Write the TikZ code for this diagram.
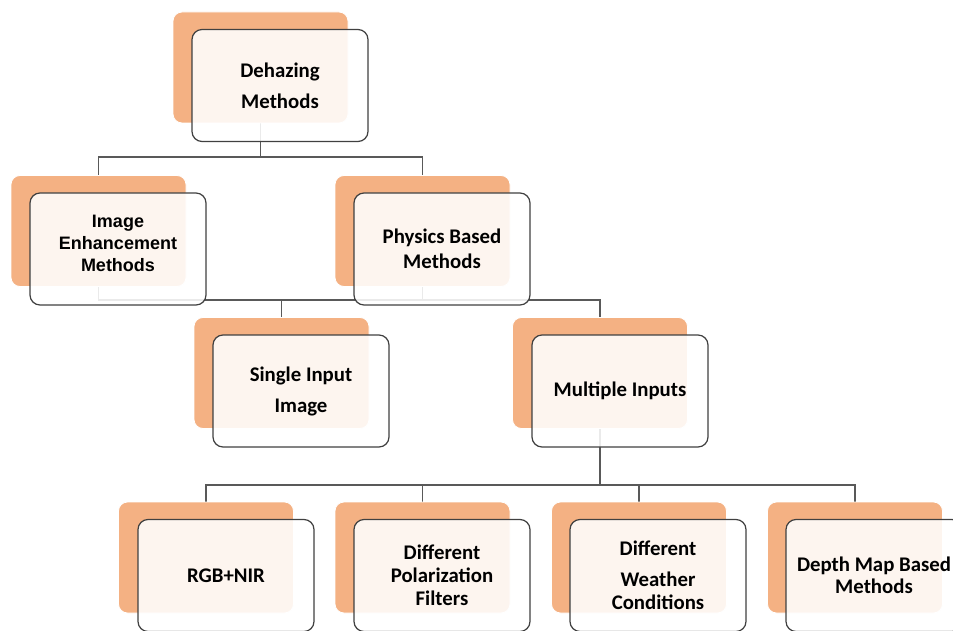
\documentclass[tikz,border=0pt]{standalone}
\usepackage{fontspec}
\newfontfamily\calfont{Carlito}
\newfontfamily\arifont{Liberation Sans}
\usetikzlibrary{backgrounds}
\definecolor{boxorange}{HTML}{F4B183}
\definecolor{boxline}{HTML}{404040}
\definecolor{connline}{HTML}{595959}
\tikzset{
  backbox/.style={rectangle, rounded corners=9pt, fill=boxorange, draw=white, line width=0.8pt,
    minimum width=175pt, minimum height=111pt, inner sep=0pt},
  frontbox/.style={rectangle, rounded corners=10pt, fill=white, fill opacity=0.88, text opacity=1,
    draw=boxline, draw opacity=1, line width=1.2pt, minimum width=176pt, minimum height=112pt,
    inner sep=0pt, align=center, font=\calfont\bfseries\fontsize{20.8}{23}\selectfont},
  conn/.style={draw=connline, line width=1.2pt},
}
\begin{document}
\begin{tikzpicture}[x=1pt,y=1pt]
\useasboundingbox (0,0) rectangle (953,-631);
\clip (0,0) rectangle (953,-631);
% level 0
\node[backbox] (o0) at (260.5,-67.5) {};
\node[frontbox] (f0) at (280,-85.5) {Dehazing\\[8pt]Methods};
% level 1
\node[backbox] (o1) at (98.5,-231) {};
\node[frontbox, font=\arifont\bfseries\fontsize{18}{22}\selectfont] (f1) at (118,-249) {Image\\Enhancement\\Methods\\[-10pt]};
\node[backbox] (o2) at (422.5,-231) {};
\node[frontbox, font=\calfont\bfseries\fontsize{20.8}{25}\selectfont] (f2) at (442,-249) {Physics Based\\Methods};
% level 2
\node[backbox] (o3) at (281.5,-373) {};
\node[frontbox] (f3) at (301,-391) {\raisebox{-3pt}{Single Input}\\[8pt]\raisebox{-3pt}{Image}};
\node[backbox] (o4) at (600,-373) {};
\node[frontbox] (f4) at (620,-391) {Multiple Inputs};
% level 3
\node[backbox] (b1) at (206,-557.5) {};
\node[frontbox] (g1) at (226,-575.5) {RGB+NIR};
\node[backbox] (b2) at (422.5,-557.5) {};
\node[frontbox] (g2) at (442,-575.5) {Different\\Polarization\\Filters};
\node[backbox] (b3) at (639,-557.5) {};
\node[frontbox] (g3) at (658,-575.5) {Different\\[8pt]Weather\\Conditions};
\node[backbox] (b4) at (855,-557.5) {};
\node[frontbox, font=\calfont\bfseries\fontsize{20.8}{22}\selectfont] (g4) at (874,-575.5) {Depth Map Based\\Methods};
% junctions
\coordinate (j0) at (260.5,-157);
\coordinate (j1) at (422.5,-300);
\coordinate (j2) at (600,-485);
\begin{pgfonlayer}{background}
\draw[conn] (o0.south) -- (j0);
\draw[conn] (j0) -| (o1.north);
\draw[conn] (j0) -| (o2.north);
\draw[conn] (o2.south) -- (j1);
\draw[conn] (j1) -| (o1.south);
\draw[conn] (j1) -| (o3.north);
\draw[conn] (j1) -| (o4.north);
\draw[conn] (o4.south) -- (j2);
\draw[conn] (j2) -| (b1.north);
\draw[conn] (j2) -| (b2.north);
\draw[conn] (j2) -| (b3.north);
\draw[conn] (j2) -| (b4.north);
\end{pgfonlayer}
\end{tikzpicture}
\end{document}
